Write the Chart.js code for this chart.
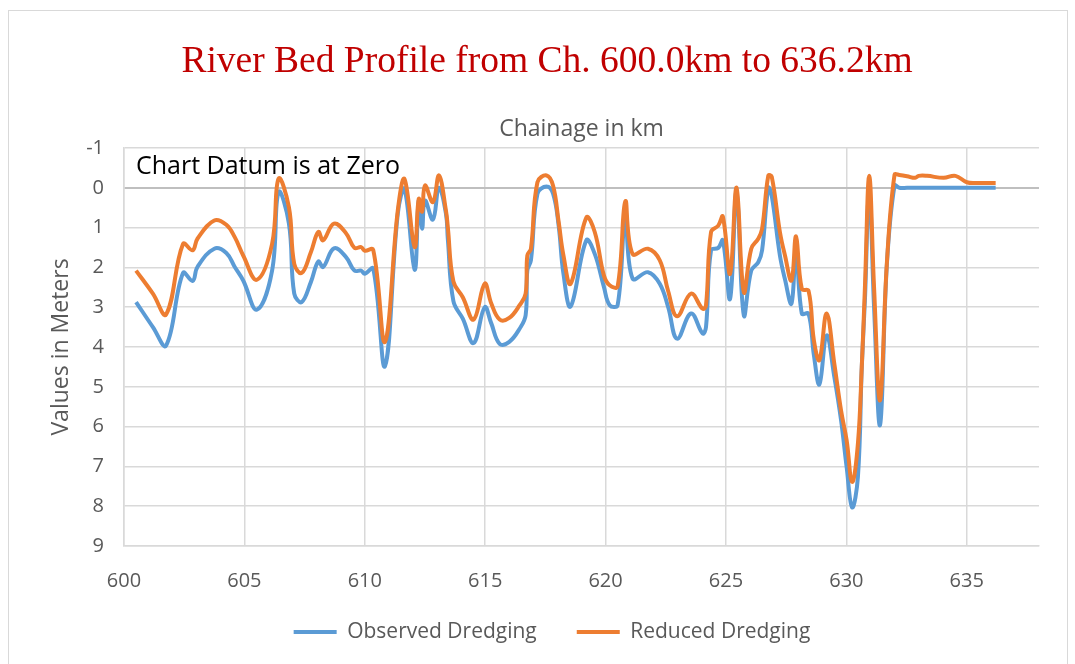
<!DOCTYPE html>
<html>
<head>
<meta charset="utf-8">
<script src="https://cdn.jsdelivr.net/npm/chart.js@4.4.1/dist/chart.umd.min.js"></script>
<style>
  html, body { margin: 0; padding: 0; background: #fff; }
  #wrap { position: relative; width: 1075px; height: 664px; overflow: hidden; }
  #frame { position: absolute; left: 8px; top: 10px; width: 1060px; height: 680px; border: 1px solid #D9D9D9; box-sizing: border-box; }
  canvas { position: absolute; left: 0; top: 0; }
</style>
</head>
<body>
<div id="wrap">
  <div id="frame"></div>
  <canvas id="c" width="1075" height="664"></canvas>
</div>
<script>
// Chainage along the river (km)
const chainage = [
  600.5, 601.2, 601.75, 602.45, 602.85, 603.05, 603.75, 604.25, 604.6, 604.95,
  605.52, 606.15, 606.42, 606.85, 607.07, 607.38, 607.76, 608.07, 608.27, 608.72,
  609.22, 609.57, 609.85, 610.0, 610.35, 610.84, 611.37, 611.65, 612.07, 612.24,
  612.38, 612.5, 612.83, 613.08, 613.37, 613.45, 613.68, 614.07, 614.52, 614.98,
  615.25, 615.6, 616.0, 616.43, 616.68, 616.75, 616.9, 617.17, 617.55, 617.82,
  618.05, 618.25, 618.55, 619.2, 619.55, 619.93, 620.17, 620.5, 620.82, 621.12,
  621.76, 622.25, 622.6, 622.97, 623.55, 624.03, 624.17, 624.38, 624.68, 624.87,
  625.17, 625.44, 625.74, 626.05, 626.34, 626.5, 626.76, 626.9, 627.24, 627.45,
  627.72, 627.91, 628.15, 628.43, 628.65, 628.88, 629.18, 629.5, 629.78, 630.01,
  630.24, 630.48, 630.64, 630.77, 630.95, 631.15, 631.4, 631.68, 632.0, 632.2,
  632.52, 632.86, 633.0, 633.35, 634.04, 634.53, 635.0, 635.43, 636.2
];

// Bed level below chart datum (m), observed dredging
const observedDepth = [
  2.87, 3.50, 3.96, 2.14, 2.34, 1.99, 1.53, 1.64, 1.99, 2.33,
  3.06, 2.08, 0.11, 0.90, 2.66, 2.87, 2.37, 1.85, 1.99, 1.52,
  1.74, 2.08, 2.08, 2.16, 2.03, 4.48, 0.65, 0.03, 2.06, 0.32,
  1.03, 0.32, 0.80, 0.00, 0.65, 1.30, 2.85, 3.29, 3.90, 3.00,
  3.40, 3.92, 3.87, 3.54, 3.20, 2.08, 1.82, 0.15, -0.03, 0.15,
  0.95, 2.16, 2.98, 1.32, 1.66, 2.49, 2.95, 2.95, 0.74, 2.28,
  2.12, 2.41, 3.00, 3.79, 3.16, 3.66, 3.50, 1.57, 1.51, 1.32,
  2.79, 0.10, 3.20, 2.08, 1.87, 1.57, 0.00, 0.20, 1.70, 2.30,
  2.91, 1.50, 3.16, 3.16, 4.20, 4.94, 3.71, 4.75, 5.84, 7.01,
  8.03, 7.26, 4.50, 2.83, 0.10, 3.00, 5.96, 1.95, -0.06, 0.00,
  0.00, 0.00, 0.00, 0.00, 0.00, 0.00, 0.00, 0.00, 0.00
];

// Bed level below chart datum (m), reduced dredging
const reducedDepth = [
  2.08, 2.66, 3.18, 1.41, 1.57, 1.28, 0.82, 0.93, 1.24, 1.70,
  2.31, 1.41, -0.23, 0.49, 1.91, 2.14, 1.62, 1.11, 1.32, 0.90,
  1.14, 1.51, 1.49, 1.58, 1.56, 3.87, 0.57, -0.22, 1.49, 0.28,
  0.60, -0.06, 0.36, -0.31, 0.57, 1.00, 2.35, 2.75, 3.31, 2.41,
  2.90, 3.31, 3.27, 2.95, 2.66, 1.70, 1.53, -0.14, -0.31, -0.05,
  0.85, 1.70, 2.41, 0.75, 1.11, 2.20, 2.45, 2.48, 0.34, 1.66,
  1.53, 1.82, 2.60, 3.23, 2.66, 3.04, 2.95, 1.11, 0.95, 0.72,
  2.16, 0.00, 2.62, 1.53, 1.28, 1.03, -0.31, -0.28, 1.11, 1.70,
  2.33, 1.22, 2.54, 2.59, 3.83, 4.33, 3.16, 4.42, 5.60, 6.34,
  7.39, 6.42, 4.50, 2.50, -0.30, 2.50, 5.34, 1.91, -0.33, -0.32,
  -0.29, -0.25, -0.30, -0.30, -0.25, -0.30, -0.14, -0.12, -0.12
];

const xTicks = [600, 605, 610, 615, 620, 625, 630, 635];
const yTicks = [-1, 0, 1, 2, 3, 4, 5, 6, 7, 8, 9];

const FONT = '"Open Sans", "DejaVu Sans", sans-serif';
const GREY = '#595959';

const toPoints = (ys) => chainage.map((x, i) => ({ x: x, y: ys[i] }));

// Note printed in the upper-left corner of the plot area
const datumNote = {
  id: 'datumNote',
  afterDraw(chart) {
    const { ctx, chartArea } = chart;
    ctx.save();
    ctx.font = '25px ' + FONT;
    ctx.fillStyle = '#000000';
    ctx.textAlign = 'left';
    ctx.textBaseline = 'middle';
    ctx.fillText('Chart Datum is at Zero', chartArea.left + 12, chartArea.top + 19);
    ctx.restore();
  }
};

// Lift the legend row closer to the axis labels and centre it under the plot
const legendNudge = {
  id: 'legendNudge',
  afterLayout(chart) {
    const lg = chart.legend;
    if (!lg) return;
    lg.top -= 11.5;
    lg.bottom -= 11.5;
    lg.left += 5;
    lg.right += 5;
  }
};

new Chart(document.getElementById('c'), {
  type: 'scatter',
  data: {
    datasets: [
      {
        label: 'Observed Dredging',
        data: toPoints(observedDepth),
        showLine: true,
        borderColor: '#5B9BD5',
        backgroundColor: '#5B9BD5',
        borderWidth: 4,
        pointRadius: 0,
        tension: 0.4,
        order: 1
      },
      {
        label: 'Reduced Dredging',
        data: toPoints(reducedDepth),
        showLine: true,
        borderColor: '#ED7D31',
        backgroundColor: '#ED7D31',
        borderWidth: 4,
        pointRadius: 0,
        tension: 0.4,
        order: 0
      }
    ]
  },
  options: {
    responsive: false,
    animation: false,
    layout: { padding: { left: 55, right: 36, top: 10, bottom: 0 } },
    plugins: {
      title: {
        display: true,
        text: 'River Bed Profile from Ch. 600.0km to 636.2km',
        color: '#C00000',
        font: { family: '"Liberation Serif", "Times New Roman", serif', size: 37.5, weight: 'normal' },
        padding: { top: 30, bottom: 31 }
      },
      legend: {
        position: 'bottom',
        labels: {
          color: GREY,
          font: { family: FONT, size: 21 },
          usePointStyle: true,
          pointStyle: 'line',
          pointStyleWidth: 43,
          padding: 40,
          sort: (a, b) => a.datasetIndex - b.datasetIndex
        }
      },
      tooltip: { enabled: false }
    },
    scales: {
      x: {
        type: 'linear',
        position: 'bottom',
        min: 600,
        max: 638,
        afterBuildTicks(scale) { scale.ticks = xTicks.map(v => ({ value: v })); },
        afterFit(scale) { scale.height = 47; },
        ticks: { color: GREY, font: { family: FONT, size: 20 }, padding: 23 },
        grid: { color: '#D9D9D9', lineWidth: 1.5, drawTicks: false },
        border: { display: true, color: '#D9D9D9', width: 1.5 }
      },
      xTop: {
        type: 'linear',
        position: 'top',
        min: 600,
        max: 638,
        afterFit(scale) { scale.height = 32; },
        ticks: { display: false },
        grid: { display: false, drawTicks: false },
        border: { display: false },
        title: {
          display: true,
          text: 'Chainage in km',
          color: GREY,
          font: { family: FONT, size: 23, weight: 'normal' },
          padding: { top: 0, bottom: 0 }
        }
      },
      y: {
        min: -1,
        max: 9,
        reverse: true,
        afterBuildTicks(scale) { scale.ticks = yTicks.map(v => ({ value: v })); },
        afterFit(scale) { scale.width = 69; },
        ticks: { color: GREY, font: { family: FONT, size: 20 }, padding: 20 },
        grid: {
          color: (c) => (c.tick && c.tick.value === 0 ? '#BFBFBF' : '#D9D9D9'),
          lineWidth: (c) => (c.tick && c.tick.value === 0 ? 2 : 1.5),
          drawTicks: false
        },
        border: { display: true, color: '#D9D9D9', width: 1.5 },
        title: {
          display: true,
          text: 'Values in Meters',
          color: GREY,
          font: { family: FONT, size: 23, weight: 'normal' },
          padding: { top: -7, bottom: 0 }
        }
      }
    }
  },
  plugins: [datumNote, legendNudge]
});
</script>
</body>
</html>
